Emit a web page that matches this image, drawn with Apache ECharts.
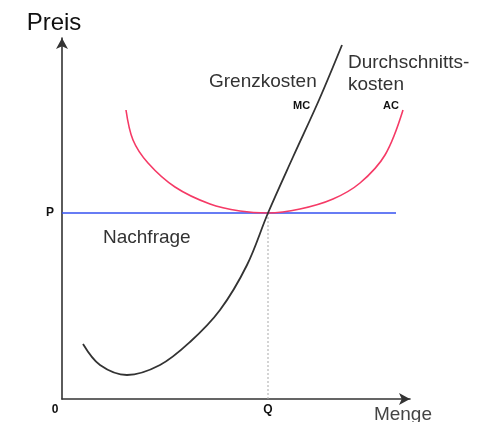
<!DOCTYPE html>
<html>
<head>
<meta charset="utf-8">
<script src="https://cdn.jsdelivr.net/npm/echarts@6/dist/echarts.min.js"></script>
<style>
  html, body { margin: 0; padding: 0; background: #fff; }
  #chart { width: 481px; height: 422px; }
</style>
</head>
<body>
<div id="chart"></div>
<script>
// curve points (x = Menge, y = Preis, arbitrary units)
var mcX = [21, 38, 65, 98, 128, 158, 185, 206, 231, 257, 280];
var mcY = [55, 34, 24, 34, 57, 89, 134, 186, 242, 299, 354];
var acX = [64, 71, 86, 113, 148, 178, 206, 238, 271, 298, 323, 341];
var acY = [289, 259, 236, 212, 195, 188, 186, 190, 200, 216, 244, 289];
var priceP = 186;
var quantityQ = 206;
var demandEndX = 334;

function pairs(xs, ys) {
  return xs.map(function (x, i) { return [x, ys[i]]; });
}

var font = '"Liberation Sans", Arial, sans-serif';
var chart = echarts.init(document.getElementById('chart'));

var option = {
  animation: false,
  grid: { left: 62, top: 38, width: 348, height: 361, outerBoundsMode: 'none' },
  xAxis: {
    type: 'value', min: 0, max: 348,
    splitLine: { show: false },
    axisTick: { show: false },
    axisLine: { lineStyle: { color: '#333', width: 1.6 }, symbol: ['none', 'arrow'], symbolSize: [9, 11] },
    axisLabel: {
      customValues: [0, quantityQ],
      margin: 5,
      fontFamily: font, fontWeight: 'bold', fontSize: 12, color: '#111',
      formatter: function (v) { return v === 0 ? '{z|0}' : '{q|Q}'; },
      rich: {
        z: { padding: [0, 14, 0, 0], fontWeight: 'bold', fontSize: 12, fontFamily: font, color: '#111' },
        q: { fontWeight: 'bold', fontSize: 12, fontFamily: font, color: '#111' }
      }
    },
    name: 'Menge', nameLocation: 'end', nameGap: 22,
    nameTextStyle: { fontFamily: font, fontSize: 19, color: '#444', align: 'right', verticalAlign: 'top', padding: [6, 0, 0, 0] }
  },
  yAxis: {
    type: 'value', min: 0, max: 361,
    splitLine: { show: false },
    axisTick: { show: false },
    axisLine: { lineStyle: { color: '#333', width: 1.6 }, symbol: ['none', 'arrow'], symbolSize: [9, 11] },
    axisLabel: {
      customValues: [priceP],
      margin: 8,
      fontFamily: font, fontWeight: 'bold', fontSize: 12, color: '#111',
      formatter: function () { return 'P'; }
    },
    name: 'Preis', nameLocation: 'end', nameGap: 3,
    nameTextStyle: { fontFamily: font, fontSize: 24, color: '#111', padding: [0, 16, 0, 0] }
  },
  series: [
    {
      type: 'line', name: 'Q', symbol: 'none', silent: true,
      data: [[quantityQ, 0], [quantityQ, priceP]],
      lineStyle: { color: '#aaa', width: 1, type: [2, 2] }
    },
    {
      type: 'line', name: 'Nachfrage', symbol: 'none', silent: true,
      data: [[0, priceP], [demandEndX, priceP]],
      lineStyle: { color: '#3450f0', width: 1.6 }
    },
    {
      type: 'line', name: 'AC', symbol: 'none', smooth: 0.35, silent: true,
      data: pairs(acX, acY),
      lineStyle: { color: '#f53a66', width: 1.6 }
    },
    {
      type: 'line', name: 'MC', symbol: 'none', smooth: 0.35, silent: true,
      data: pairs(mcX, mcY),
      lineStyle: { color: '#333', width: 1.8 }
    }
  ],
  graphic: [
    { type: 'text', left: 209, top: 72, style: { text: 'Grenzkosten', font: '19px ' + font, fill: '#333' } },
    { type: 'text', left: 348, top: 52, style: { text: 'Durchschnitts-\nkosten', font: '19px ' + font, fill: '#333', lineHeight: 22 } },
    { type: 'text', left: 293, top: 100, style: { text: 'MC', font: 'bold 11px ' + font, fill: '#111' } },
    { type: 'text', left: 383, top: 100, style: { text: 'AC', font: 'bold 11px ' + font, fill: '#111' } },
    { type: 'text', left: 103, top: 228, style: { text: 'Nachfrage', font: '19px ' + font, fill: '#333' } }
  ]
};
chart.setOption(option);
</script>
</body>
</html>
